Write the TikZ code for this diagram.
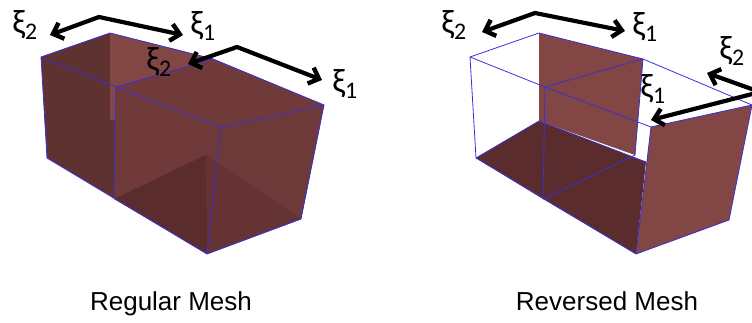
\documentclass[tikz,border=0pt]{standalone}
\usepackage{fontspec}
\setmainfont{Liberation Sans}
\newfontfamily\xifont{Carlito}
\usetikzlibrary{arrows.meta, positioning}
\definecolor{walldark}{HTML}{5F3232}
\definecolor{wallmid}{HTML}{703A3A}
\definecolor{walllight}{HTML}{824644}
\definecolor{floordark}{HTML}{5B2C2E}
\definecolor{edgeblue}{HTML}{3A2FD8}
\begin{document}
\begin{tikzpicture}[x=1pt, y=-1pt, >={Straight Barb[length=9pt, width=17pt, line width=4.4pt]},
		meshedge/.style={draw=edgeblue, line width=0.8pt, line join=round},
		axis/.style={draw=black, line width=4.2pt, <->, line join=miter},
		axisone/.style={draw=black, line width=4.2pt, ->},
		xilabel/.style={font=\xifont\fontsize{34}{34}\selectfont, inner sep=0pt, text=black},
		caption/.style={font=\fontsize{26}{28}\selectfont, inner sep=0pt, anchor=base}]
		\useasboundingbox (0,0) rectangle (752,323);
		
		% regular mesh
		\coordinate (ra) at (41,57);
		\coordinate (rb) at (110,33);
		\coordinate (rc) at (116,87);
		\coordinate (rd) at (213,59);
		\coordinate (re) at (324,105);
		\coordinate (rf) at (221,127);
		\coordinate (rg) at (47,158);
		\coordinate (rh) at (114,199);
		\coordinate (ri) at (207,254);
		\coordinate (rj) at (301,219);
		\coordinate (rk) at (110,120);
		\coordinate (rl) at (206,155);
		
		\fill[walldark] (ra) -- (rb) -- (rd) -- (re) -- (rj) -- (ri) -- (rg) -- cycle;
		\fill[walllight] (rb) -- (rd) -- (rc) -- (116,120) -- (rk) -- cycle;
		\fill[wallmid] (rc) -- (rf) -- (rl) -- (rh) -- cycle;
		\fill[wallmid] (rc) -- (rd) -- (re) -- (rf) -- cycle;
		\fill[wallmid!85!walldark] (rf) -- (re) -- (rj) -- (rl) -- cycle;
		\fill[floordark] (rh) -- (rl) -- (ri) -- cycle;
		\fill[floordark!50!wallmid] (rl) -- (rj) -- (ri) -- cycle;
		
		\draw[meshedge] (ra) -- (rb) -- (rd) -- (re) -- (rf) -- (rc) -- cycle;
		\draw[meshedge] (rc) -- (rd);
		\draw[meshedge] (ra) -- (rg) -- (ri) -- (rj) -- (re);
		\draw[meshedge] (rc) -- (rh);
		\draw[meshedge] (rf) -- (ri);
		
		% reversed mesh
		\coordinate (va) at (470,57);
		\coordinate (vb) at (539,33);
		\coordinate (vc) at (545,87);
		\coordinate (vd) at (643,59);
		\coordinate (ve) at (752,105);
		\coordinate (vf) at (651,127);
		\coordinate (vg) at (476,158);
		\coordinate (vh) at (543,199);
		\coordinate (vi) at (636,254);
		\coordinate (vj) at (729,220);
		\coordinate (vk) at (539,121);
		\coordinate (vl) at (635,155);
		\coordinate (vm) at (646,162);
		
		\fill[walllight] (vb) -- (vd) -- (vl) -- (vk) -- cycle;
		\fill[floordark] (vg) -- (vk) -- (vm) -- (vi) -- (vh) -- cycle;
		\fill[walllight] (vf) -- (ve) -- (vj) -- (vi) -- cycle;
		
		\draw[meshedge] (va) -- (vb) -- (vd) -- (ve) -- (vf) -- (vc) -- cycle;
		\draw[meshedge] (vc) -- (vd) -- (vl);
		\draw[meshedge] (va) -- (vg) -- (vi) -- (vj) -- (ve);
		\draw[meshedge] (vg) -- (vk) -- (vm);
		\draw[meshedge] (vc) -- (vh) -- (vl);
		\draw[meshedge] (vf) -- (vi);
		
		% axes
		\coordinate (apexa) at (99,17);
		\coordinate (enda) at (50,35);
		\coordinate (endb) at (183,35);
		\coordinate (apexb) at (237,47);
		\coordinate (endc) at (188,64);
		\coordinate (endd) at (322,80);
		\coordinate (apexc) at (535,13);
		\coordinate (ende) at (482,32);
		\coordinate (endf) at (625,31);
		\coordinate (apexd) at (760,92);
		\coordinate (endg) at (707,73);
		\coordinate (endh) at (651,120);
		
		\draw[axis] (enda) -- (apexa) -- (endb);
		\draw[axis] (endc) -- (apexb) -- (endd);
		\draw[axis] (ende) -- (apexc) -- (endf);
		\draw[axisone] (apexd) -- (endg);
		\draw[axisone] (apexd) -- (endh);
		
		\node[xilabel] (xibl) at (25,25) {ξ\textsubscript{2}};
		\node[xilabel] (xial) at (203,26) {ξ\textsubscript{1}};
		\node[xilabel] (xidl) at (159,62) {ξ\textsubscript{2}};
		\node[xilabel] (xicl) at (345,84) {ξ\textsubscript{1}};
		\node[xilabel] (xibr) at (454,25) {ξ\textsubscript{2}};
		\node[xilabel] (xiar) at (645,27) {ξ\textsubscript{1}};
		\node[xilabel] (xidr) at (732,51) {ξ\textsubscript{2}};
		\node[xilabel] (xicr) at (653,89) {ξ\textsubscript{1}};
		
		\node[caption] (regular) at (171,310) {Regular Mesh};
		\node[caption] (reversed) at (607,310) {Reversed Mesh};
	\end{tikzpicture}
\end{document}
